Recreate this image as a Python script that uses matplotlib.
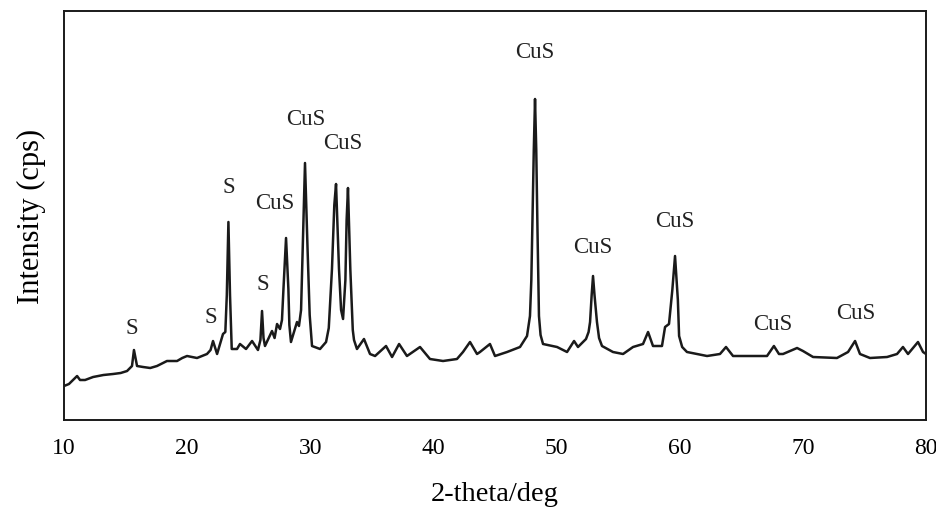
"""
XRD pattern of the CuS / S product, redrawn from the published figure.
Intensity is in arbitrary cps (the original axis has no scale).
"""

import matplotlib
matplotlib.use("Agg")
import matplotlib.pyplot as plt

# 2-theta [deg] and intensity [cps]
two_theta = [
    10.00, 10.40, 11.06, 11.30, 11.71, 12.36, 13.20, 13.98, 14.60, 15.12,
    15.52, 15.68, 15.93, 16.42, 17.00, 17.55, 18.36, 19.18, 19.60, 19.99,
    20.80, 21.61, 21.90, 22.10, 22.43, 22.91, 23.10, 23.22, 23.35, 23.48,
    23.62, 24.05, 24.29, 24.78, 25.27, 25.75, 25.95, 26.08, 26.20, 26.32,
    26.89, 27.10, 27.30, 27.54, 27.70, 27.82, 28.03, 28.22, 28.30, 28.43,
    28.92, 29.08, 29.25, 29.38, 29.57, 29.78, 29.95, 30.14, 30.79, 31.28,
    31.50, 31.76, 31.95, 32.09, 32.33, 32.50, 32.66, 32.85, 32.95, 33.06,
    33.25, 33.45, 33.55, 33.79, 34.36, 34.85, 35.26, 36.15, 36.64, 37.21,
    37.85, 38.91, 39.72, 40.78, 41.91, 42.40, 42.97, 43.54, 43.78, 44.59,
    45.00, 45.98, 47.03, 47.60, 47.84, 47.95, 48.03, 48.15, 48.25, 48.35,
    48.45, 48.57, 48.70, 48.90, 50.04, 50.85, 51.42, 51.74, 52.39, 52.60,
    52.72, 52.85, 52.96, 53.08, 53.28, 53.45, 53.69, 54.58, 55.40, 56.21,
    57.02, 57.43, 57.83, 58.56, 58.81, 59.13, 59.40, 59.62, 59.85, 59.95,
    60.20, 60.59, 62.22, 63.27, 63.76, 64.33, 65.95, 67.09, 67.65, 68.06,
    68.39, 69.53, 70.01, 70.83, 72.77, 73.67, 74.24, 74.64, 75.45, 76.84,
    77.65, 78.13, 78.54, 79.35, 79.76, 80.00,
]
intensity = [
    340, 360, 440, 400, 400, 430, 450, 460, 470, 490,
    540, 700, 540, 530, 520, 540, 590, 590, 620, 640,
    620, 660, 700, 790, 660, 860, 880, 1250, 1980, 1250,
    710, 710, 760, 710, 790, 700, 800, 1090, 820, 740,
    890, 820, 960, 910, 1000, 1310, 1820, 1310, 950, 780,
    980, 940, 1100, 1700, 2570, 1700, 1050, 740, 710, 780,
    920, 1510, 2150, 2360, 1510, 1100, 1010, 1400, 2000, 2320,
    1510, 900, 800, 710, 810, 660, 640, 740, 630, 760,
    640, 730, 610, 590, 610, 680, 780, 660, 680, 760,
    640, 680, 730, 840, 1040, 1400, 1900, 2700, 3210, 2700,
    1900, 1040, 850, 760, 730, 680, 790, 730, 810, 880,
    980, 1250, 1440, 1250, 980, 820, 740, 680, 660, 730,
    760, 880, 740, 740, 930, 960, 1300, 1640, 1200, 840,
    730, 680, 640, 660, 730, 640, 640, 640, 740, 660,
    660, 720, 690, 630, 620, 680, 790, 660, 620, 630,
    660, 730, 660, 780, 680, 660,
]

# phase labels: text, 2-theta, intensity
label_text = ["S", "S", "S", "S", "CuS", "CuS", "CuS",
              "CuS", "CuS", "CuS", "CuS", "CuS"]
label_x = [15.52, 21.94, 23.40, 26.16, 27.13, 29.65, 32.66,
           48.25, 52.96, 59.62, 67.58, 74.32]
label_y = [930, 1030, 2330, 1360, 2170, 3010, 2770,
           3680, 1730, 1990, 970, 1070]

plt.rcParams["font.family"] = ["Liberation Serif", "DejaVu Serif"]

fig = plt.figure(figsize=(9.36, 5.10), dpi=100)
ax = fig.add_axes([0.0684, 0.1745, 0.9209, 0.802])
ax.plot(two_theta, intensity, "-", color="#1a1a1a", lw=1.8,
        solid_joinstyle="round")

for txt, x, y in zip(label_text, label_x, label_y):
    ax.text(x, y, txt, ha="center", va="center", fontsize=16.5,
            color="#222222")

ax.set_xlim(10, 80)
ax.set_ylim(0, 4090)
ax.set_xticks(range(10, 81, 10))
ax.set_yticks([])
ax.tick_params(axis="x", length=0, pad=12, labelsize=17)
ax.set_xlabel("2-theta/deg", fontsize=20.5, labelpad=17)
ax.set_ylabel("Intensity (cps)", fontsize=22, labelpad=13)
for sp in ax.spines.values():
    sp.set_linewidth(1.4)
    sp.set_color("#1a1a1a")

fig.savefig("out.png", dpi=100)
plt.close(fig)
